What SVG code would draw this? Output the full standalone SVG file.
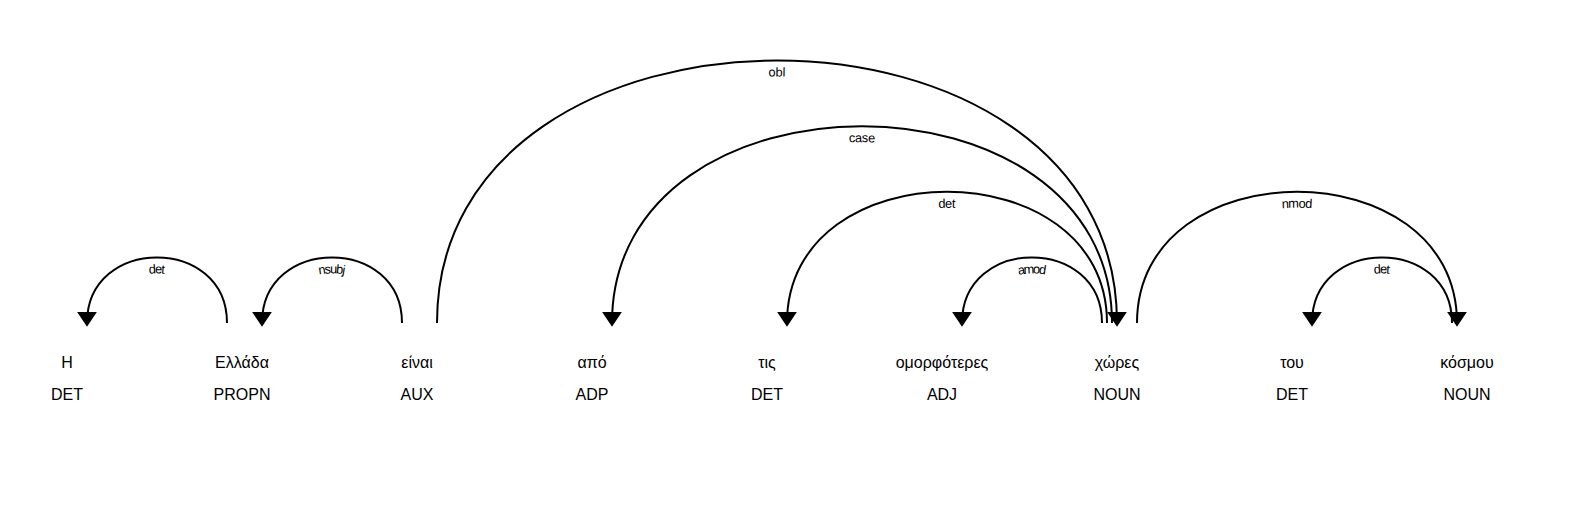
<svg xmlns="http://www.w3.org/2000/svg" width="1583" height="522" viewBox="0 0 1583 522">
<style>
  .bg { fill: #ffffff; }
  .word { font-family: "Liberation Sans", Arial, sans-serif; font-size: 16px; fill: #000000; text-anchor: middle; }
  .arc { fill: none; stroke: #000000; stroke-width: 2px; }
  .arrow { fill: #000000; stroke: #000000; stroke-width: 2px; }
  .label { font-family: "Liberation Sans", Arial, sans-serif; font-size: 12.8px; fill: #000000; }
</style>
<rect class="bg" x="0" y="0" width="1583" height="522"/>

<g id="nodes">
  <g id="w0"><text class="word" x="67" y="368">Η</text><text class="word" x="67" y="400">DET</text></g>
  <g id="w1"><text class="word" x="242" y="368">Ελλάδα</text><text class="word" x="242" y="400">PROPN</text></g>
  <g id="w2"><text class="word" x="417" y="368">είναι</text><text class="word" x="417" y="400">AUX</text></g>
  <g id="w3"><text class="word" x="592" y="368">από</text><text class="word" x="592" y="400">ADP</text></g>
  <g id="w4"><text class="word" x="767" y="368">τις</text><text class="word" x="767" y="400">DET</text></g>
  <g id="w5"><text class="word" x="942" y="368">ομορφότερες</text><text class="word" x="942" y="400">ADJ</text></g>
  <g id="w6"><text class="word" x="1117" y="368">χώρες</text><text class="word" x="1117" y="400">NOUN</text></g>
  <g id="w7"><text class="word" x="1292" y="368">του</text><text class="word" x="1292" y="400">DET</text></g>
  <g id="w8"><text class="word" x="1467" y="368">κόσμου</text><text class="word" x="1467" y="400">NOUN</text></g>
</g>

<g id="connectors">
  <g id="arc0">
    <path id="p0" class="arc" d="M87,323 C87,235.5 227,235.5 227,323"/>
    <text class="label" dy="1.25em"><textPath href="#p0" startOffset="50%" text-anchor="middle">det</textPath></text>
    <path class="arrow" d="M87,325 L79,313 95,313 Z"/>
  </g>
  <g id="arc1">
    <path id="p1" class="arc" d="M262,323 C262,235.5 402,235.5 402,323"/>
    <text class="label" dy="1.25em"><textPath href="#p1" startOffset="50%" text-anchor="middle">nsubj</textPath></text>
    <path class="arrow" d="M262,325 L254,313 270,313 Z"/>
  </g>
  <g id="arc2">
    <path id="p2" class="arc" d="M437,323 C437,-27 1117,-27 1117,323"/>
    <text class="label" dy="1.25em"><textPath href="#p2" startOffset="50%" text-anchor="middle">obl</textPath></text>
    <path class="arrow" d="M1117,325 L1109,313 1125,313 Z"/>
  </g>
  <g id="arc3">
    <path id="p3" class="arc" d="M612,323 C612,60.5 1112,60.5 1112,323"/>
    <text class="label" dy="1.25em"><textPath href="#p3" startOffset="50%" text-anchor="middle">case</textPath></text>
    <path class="arrow" d="M612,325 L604,313 620,313 Z"/>
  </g>
  <g id="arc4">
    <path id="p4" class="arc" d="M787,323 C787,148 1107,148 1107,323"/>
    <text class="label" dy="1.25em"><textPath href="#p4" startOffset="50%" text-anchor="middle">det</textPath></text>
    <path class="arrow" d="M787,325 L779,313 795,313 Z"/>
  </g>
  <g id="arc5">
    <path id="p5" class="arc" d="M962,323 C962,235.5 1102,235.5 1102,323"/>
    <text class="label" dy="1.25em"><textPath href="#p5" startOffset="50%" text-anchor="middle">amod</textPath></text>
    <path class="arrow" d="M962,325 L954,313 970,313 Z"/>
  </g>
  <g id="arc6">
    <path id="p6" class="arc" d="M1137,323 C1137,148 1457,148 1457,323"/>
    <text class="label" dy="1.25em"><textPath href="#p6" startOffset="50%" text-anchor="middle">nmod</textPath></text>
    <path class="arrow" d="M1457,325 L1449,313 1465,313 Z"/>
  </g>
  <g id="arc7">
    <path id="p7" class="arc" d="M1312,323 C1312,235.5 1452,235.5 1452,323"/>
    <text class="label" dy="1.25em"><textPath href="#p7" startOffset="50%" text-anchor="middle">det</textPath></text>
    <path class="arrow" d="M1312,325 L1304,313 1320,313 Z"/>
  </g>
</g>
</svg>
